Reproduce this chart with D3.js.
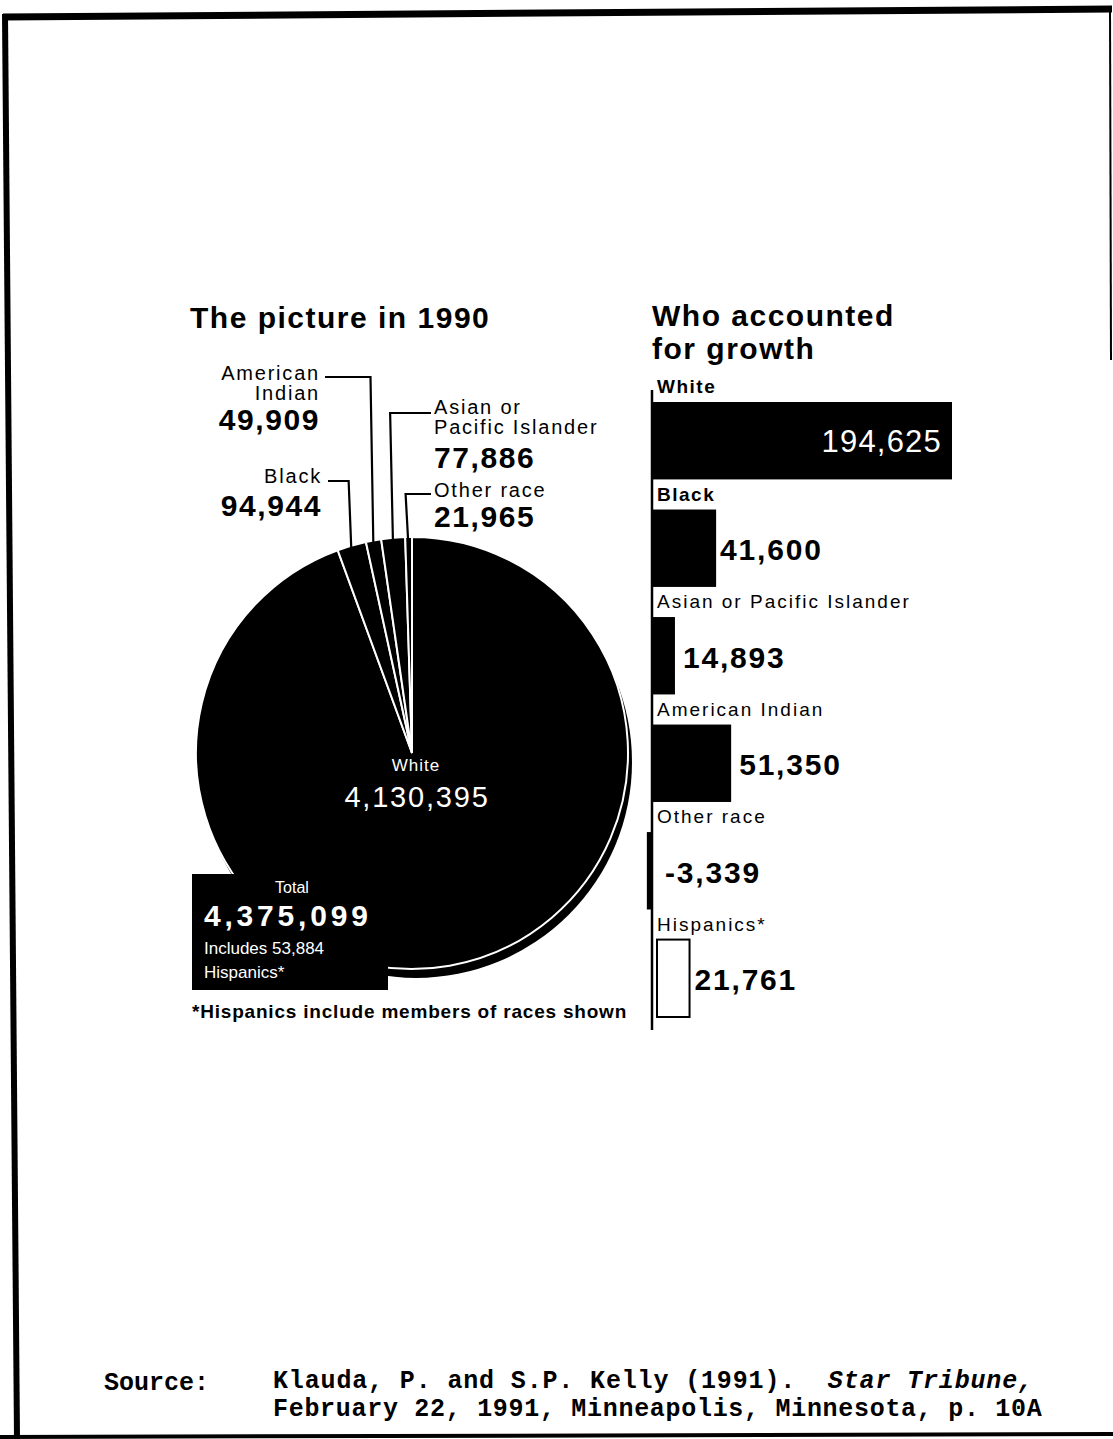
<!DOCTYPE html>
<html>
<head>
<meta charset="utf-8">
<script src="https://cdn.jsdelivr.net/npm/d3@7"></script>
<style>
  body { margin: 0; background: #fff; }
  svg { display: block; }
  text { font-family: "Liberation Sans", Arial, sans-serif; }
</style>
</head>
<body>
<svg id="chart"></svg>
<script>
// Pie data: 1990 population by race
const pieCategories = ["White", "Black", "American Indian", "Asian or Pacific Islander", "Other race"];
const pieValues = [4130395, 94944, 49909, 77886, 21965];
const pieLabelLines = [["White"], ["Black"], ["American", "Indian"], ["Asian or", "Pacific Islander"], ["Other race"]];
const totalPopulation = 4375099;
const hispanicTotal = 53884;

// Bar data: who accounted for growth
const barCategories = ["White", "Black", "Asian or Pacific Islander", "American Indian", "Other race", "Hispanics*"];
const barValues = [194625, 41600, 14893, 51350, -3339, 21761];

const width = 1113;
const height = 1439;
const fmt = d3.format(",");

const svg = d3.select("#chart")
    .attr("width", width)
    .attr("height", height);

// page border (scanned sheet)
const border = svg.append("g").attr("stroke", "#000").attr("fill", "none");
border.append("line").attr("x1", 3).attr("y1", 17).attr("x2", 1112).attr("y2", 9).attr("stroke-width", 7);
border.append("line").attr("x1", 5).attr("y1", 14).attr("x2", 17).attr("y2", 1439).attr("stroke-width", 6);
border.append("line").attr("x1", 1110).attr("y1", 8).attr("x2", 1111).attr("y2", 360).attr("stroke-width", 2);
border.append("line").attr("x1", 0).attr("y1", 1437).attr("x2", 1113).attr("y2", 1434).attr("stroke-width", 4);

// ---------- Pie ----------
const cx = 412, cy = 753, R = 216;

svg.append("text")
    .attr("x", 190).attr("y", 328)
    .attr("font-size", 30).attr("font-weight", "bold")
    .attr("letter-spacing", 1.5)
    .text("The picture in 1990");

const pie = d3.pie().sort(null).value(d => d)(pieValues);
const arc = d3.arc().innerRadius(0).outerRadius(R);

const pieG = svg.append("g").attr("transform", `translate(${cx},${cy})`);

// drop shadow underneath the pie face
pieG.append("circle")
    .attr("cx", 4).attr("cy", 9).attr("r", R)
    .attr("fill", "#000");

pieG.selectAll("path.slice")
    .data(pie)
    .join("path")
    .attr("class", "slice")
    .attr("d", arc)
    .attr("fill", "#000")
    .attr("stroke", "#fff")
    .attr("stroke-width", 2);

// center label for White
pieG.append("text")
    .attr("x", 4).attr("y", 18)
    .attr("text-anchor", "middle")
    .attr("font-size", 17).attr("fill", "#fff")
    .attr("letter-spacing", 1)
    .text(pieCategories[0]);
pieG.append("text")
    .attr("x", 5).attr("y", 54)
    .attr("text-anchor", "middle")
    .attr("font-size", 29).attr("fill", "#fff")
    .attr("letter-spacing", 1.8)
    .text(fmt(pieValues[0]));

// outside labels with leader lines
const labelLayout = {
  "Black": { x: 322, y: 483, anchor: "end", lineX0: 328, lineY: 481, numY: 516 },
  "American Indian": { x: 320, y: 380, anchor: "end", lineX0: 325, lineY: 377, numY: 430 },
  "Asian or Pacific Islander": { x: 434, y: 414, anchor: "start", lineX0: 431, lineY: 413, numY: 468 },
  "Other race": { x: 434, y: 497, anchor: "start", lineX0: 431, lineY: 494, numY: 527 }
};

pie.forEach((d, i) => {
  const name = pieCategories[i];
  const L = labelLayout[name];
  if (!L) return;
  const a = (d.startAngle + d.endAngle) / 2;
  const ex = cx + R * Math.sin(a);
  const ey = cy - R * Math.cos(a);
  svg.append("polyline")
      .attr("points", `${L.lineX0},${L.lineY} ${ex - 3},${L.lineY} ${ex},${ey + 12}`)
      .attr("fill", "none")
      .attr("stroke", "#000")
      .attr("stroke-width", 2.2);
  const t = svg.append("text")
      .attr("text-anchor", L.anchor)
      .attr("font-size", 20)
      .attr("letter-spacing", 1.8);
  pieLabelLines[i].forEach((line, j) => {
    t.append("tspan").attr("x", L.x).attr("y", L.y + j * 20).text(line);
  });
  svg.append("text")
      .attr("x", L.x).attr("y", L.numY)
      .attr("text-anchor", L.anchor)
      .attr("font-size", 30).attr("font-weight", "bold")
      .attr("letter-spacing", 1.6)
      .text(fmt(pieValues[i]));
});

// total box
const box = svg.append("g");
box.append("rect")
    .attr("x", 192).attr("y", 874).attr("width", 196).attr("height", 116)
    .attr("fill", "#000");
box.append("text")
    .attr("x", 292).attr("y", 893)
    .attr("text-anchor", "middle")
    .attr("font-size", 16).attr("fill", "#fff")
    .text("Total");
box.append("text")
    .attr("x", 204).attr("y", 926)
    .attr("font-size", 30).attr("font-weight", "bold").attr("fill", "#fff")
    .attr("letter-spacing", 3.8)
    .text(fmt(totalPopulation));
box.append("text")
    .attr("x", 204).attr("y", 954)
    .attr("font-size", 17).attr("fill", "#fff")
    .text(`Includes ${fmt(hispanicTotal)}`);
box.append("text")
    .attr("x", 204).attr("y", 978)
    .attr("font-size", 17).attr("fill", "#fff")
    .text("Hispanics*");

svg.append("text")
    .attr("x", 192).attr("y", 1018)
    .attr("font-size", 19).attr("font-weight", "bold")
    .attr("letter-spacing", 0.8)
    .text("*Hispanics include members of races shown");

// ---------- Bars ----------
const x0 = 652;
svg.append("text")
    .attr("x", 652).attr("y", 326)
    .attr("font-size", 30).attr("font-weight", "bold")
    .attr("letter-spacing", 1.5)
    .text("Who accounted");
svg.append("text")
    .attr("x", 652).attr("y", 359)
    .attr("font-size", 30).attr("font-weight", "bold")
    .attr("letter-spacing", 1.5)
    .text("for growth");

const x = d3.scaleLinear()
    .domain([0, d3.max(barValues)])
    .range([x0, 952]);

const y = d3.scaleBand()
    .domain(barCategories)
    .range([402, 1017])
    .paddingInner(0.28)
    .paddingOuter(0);

// baseline axis
svg.append("line")
    .attr("x1", x(0)).attr("x2", x(0))
    .attr("y1", 390).attr("y2", 1030)
    .attr("stroke", "#000").attr("stroke-width", 2.5);

const barG = svg.append("g");
barCategories.forEach((c, i) => {
  const v = barValues[i];
  const isHisp = c === "Hispanics*";
  barG.append("rect")
      .attr("x", Math.min(x(0), x(v)) + (isHisp ? 5 : 0))
      .attr("y", y(c))
      .attr("width", Math.abs(x(v) - x(0)) + (isHisp ? -1 : 0))
      .attr("height", y.bandwidth())
      .attr("fill", isHisp ? "#fff" : "#000")
      .attr("stroke", "#000")
      .attr("stroke-width", isHisp ? 2 : 0);

  barG.append("text")
      .attr("x", x0 + 5).attr("y", y(c) - 9)
      .attr("font-size", 19)
      .attr("font-weight", i < 2 ? "bold" : "normal")
      .attr("letter-spacing", i < 2 ? 1.5 : 2)
      .text(c);

  const mid = y(c) + y.bandwidth() / 2;
  if (i === 0) {
    barG.append("text")
        .attr("x", x(v) - 10).attr("y", mid + 11)
        .attr("text-anchor", "end")
        .attr("font-size", 31).attr("fill", "#fff")
        .attr("letter-spacing", 1.2)
        .text(fmt(v));
  } else {
    barG.append("text")
        .attr("x", Math.max(x(v), x(0)) + (isHisp ? 9 : (i === 1 ? 4 : 8)) + (v < 0 ? 5 : 0))
        .attr("y", mid + 12)
        .attr("font-size", 30).attr("font-weight", "bold")
        .attr("letter-spacing", 1.8)
        .text(fmt(v).replace("−", "-"));
  }
});

// ---------- Source ----------
const src = svg.append("g")
    .attr("font-weight", "bold")
    .attr("font-size", 25)
    .style("font-family", "'Liberation Mono', 'DejaVu Sans Mono', monospace");
src.append("text").attr("x", 104).attr("y", 1390)
    .style("font-family", "'Liberation Mono', monospace")
    .text("Source:");
const l1 = src.append("text").attr("x", 273).attr("y", 1388)
    .style("font-family", "'Liberation Mono', monospace")
    .attr("letter-spacing", 0.85)
    .attr("xml:space", "preserve");
l1.append("tspan").text("Klauda, P. and S.P. Kelly (1991).  ");
l1.append("tspan").attr("font-style", "italic").text("Star Tribune,");
src.append("text").attr("x", 273).attr("y", 1416)
    .style("font-family", "'Liberation Mono', monospace")
    .attr("letter-spacing", 0.7)
    .text("February 22, 1991, Minneapolis, Minnesota, p. 10A");
</script>
</body>
</html>
